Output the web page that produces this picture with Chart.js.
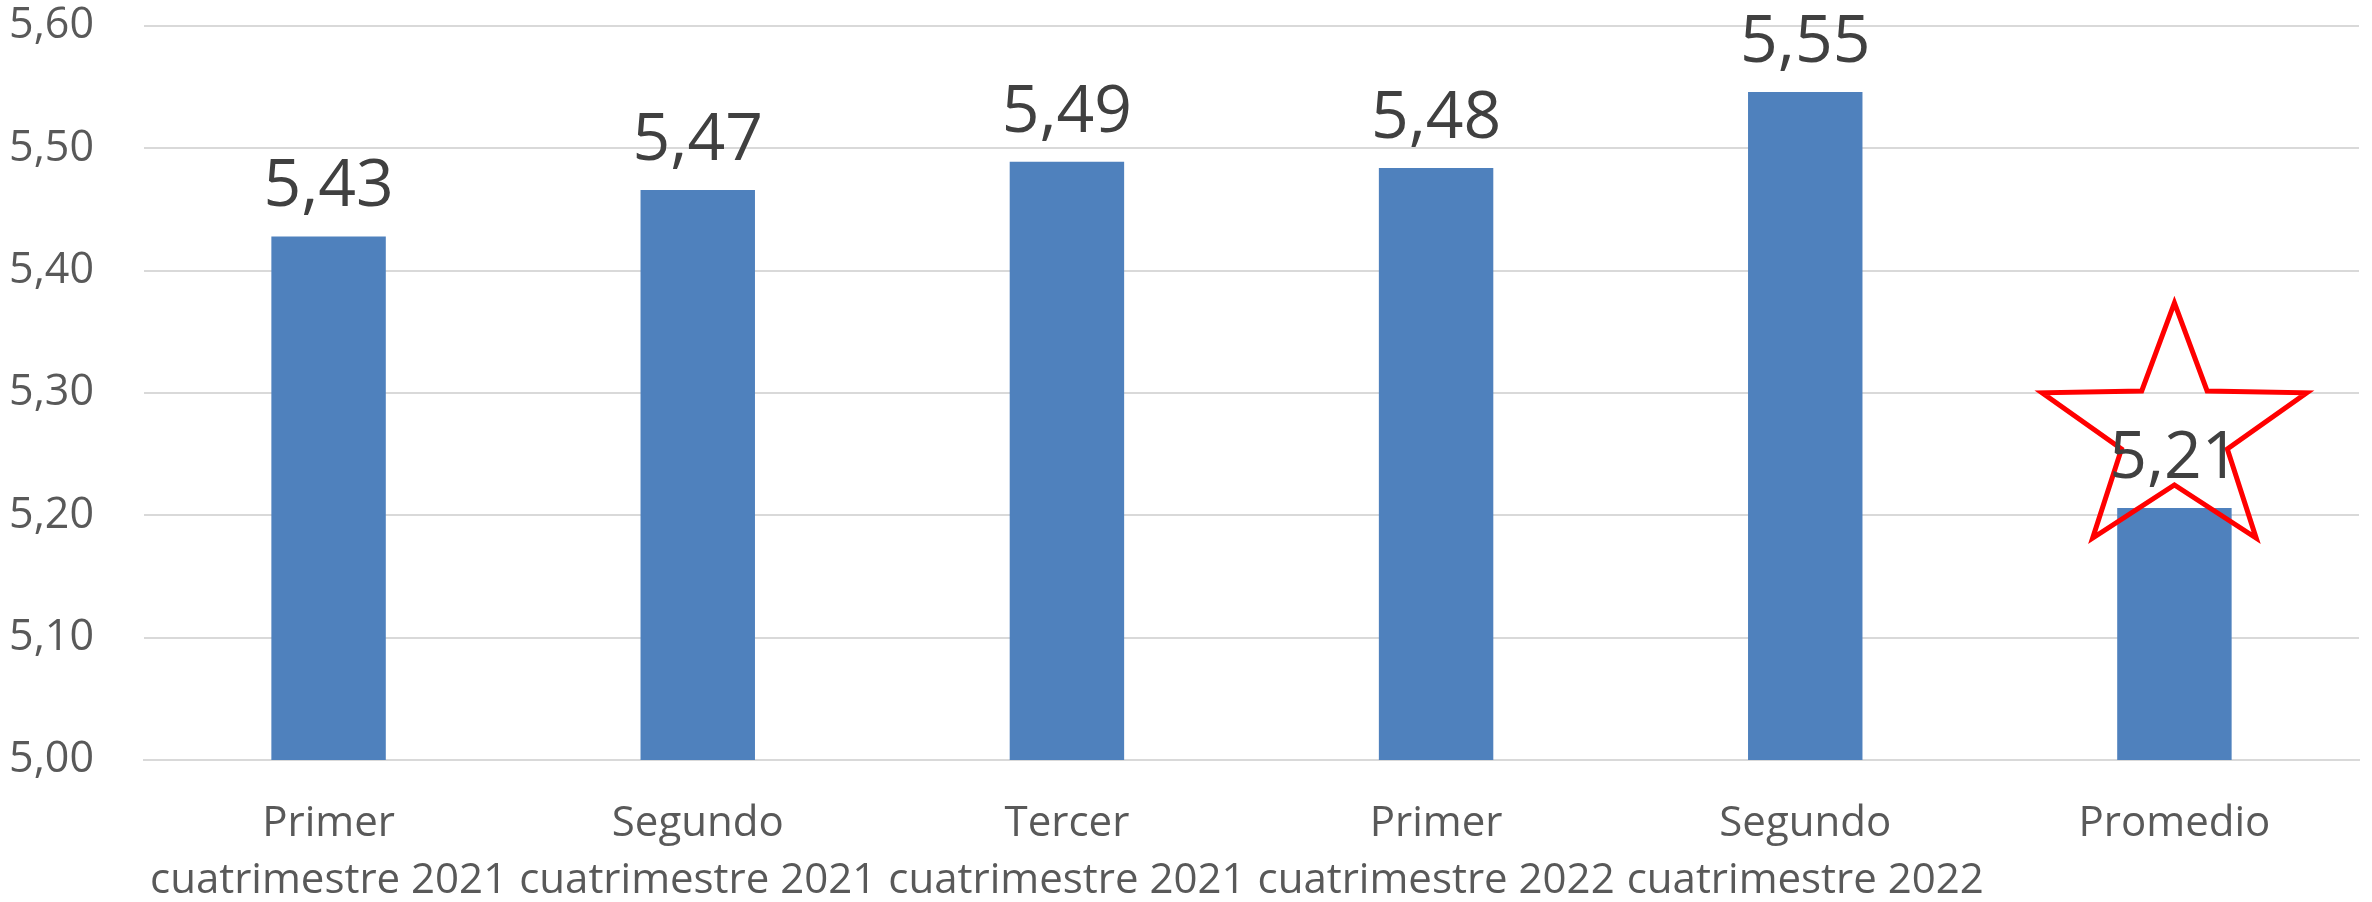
<!DOCTYPE html>
<html>
<head>
<meta charset="utf-8">
<script src="https://cdn.jsdelivr.net/npm/chart.js@4/dist/chart.umd.min.js"></script>
<style>
  html, body { margin: 0; padding: 0; background: #fff; }
  #wrap { width: 2372px; height: 902px; position: relative; }
</style>
</head>
<body>
<div id="wrap"><canvas id="chart"></canvas></div>
<script>
const categories = [
  ['Primer', 'cuatrimestre 2021'],
  ['Segundo', 'cuatrimestre 2021'],
  ['Tercer', 'cuatrimestre 2021'],
  ['Primer', 'cuatrimestre 2022'],
  ['Segundo', 'cuatrimestre 2022'],
  'Promedio'
];
const values = [5.428, 5.466, 5.489, 5.484, 5.546, 5.206];
const yTicks = [5.0, 5.1, 5.2, 5.3, 5.4, 5.5, 5.6];
const highlightIndex = 5; // star drawn around the average bar

const FONT = '"Open Sans", "Noto Sans", sans-serif';
const fmt = v => v.toFixed(2).replace('.', ',');

// value labels above each bar
const BarLabels = {
  id: 'barLabels',
  afterDatasetsDraw(chart) {
    const { ctx } = chart;
    const meta = chart.getDatasetMeta(0);
    ctx.save();
    ctx.font = `66px ${FONT}`;
    ctx.fillStyle = '#404040';
    ctx.textAlign = 'center';
    ctx.textBaseline = 'alphabetic';
    meta.data.forEach((bar, i) => {
      ctx.fillText(fmt(values[i]), bar.x, bar.y - 30);
    });
    ctx.restore();
  }
};

// red outlined 5-point star around the highlighted bar's label
const StarMark = {
  id: 'starMark',
  afterDatasetsDraw(chart) {
    const bar = chart.getDatasetMeta(0).data[highlightIndex];
    if (!bar) return;
    const { ctx } = chart;
    const cx = bar.x, cy = bar.y - 75;
    const R = 130, r = 52, sx = 1.07;
    ctx.save();
    ctx.beginPath();
    for (let k = 0; k < 10; k++) {
      const rad = k % 2 === 0 ? R : r;
      const a = -Math.PI / 2 + k * Math.PI / 5;
      const px = cx + Math.cos(a) * rad * sx, py = cy + Math.sin(a) * rad;
      if (k === 0) ctx.moveTo(px, py); else ctx.lineTo(px, py);
    }
    ctx.closePath();
    ctx.lineWidth = 5;
    ctx.strokeStyle = '#ff0000';
    ctx.lineJoin = 'miter';
    ctx.stroke();
    ctx.restore();
  }
};

new Chart(document.getElementById('chart'), {
  type: 'bar',
  data: {
    labels: categories,
    datasets: [{
      data: values,
      backgroundColor: '#4f81bd',
      borderWidth: 0,
      categoryPercentage: 1,
      barPercentage: 0.31
    }]
  },
  options: {
    responsive: true,
    maintainAspectRatio: false,
    animation: false,
    devicePixelRatio: 1,
    layout: { padding: { top: 26, right: 13, left: 0, bottom: 0 } },
    plugins: { legend: { display: false }, tooltip: { enabled: false } },
    scales: {
      x: {
        grid: { display: false, drawTicks: false },
        border: { display: true, color: '#d9d9d9', width: 2 },
        ticks: {
          color: '#595959', font: { family: FONT, size: 42, lineHeight: 1.35 }, padding: 36,
          maxRotation: 0, minRotation: 0, autoSkip: false
        },
        afterFit: s => { s.height = 142; s.paddingLeft = 0; s.paddingRight = 0; }
      },
      y: {
        min: yTicks[0], max: yTicks[yTicks.length - 1],
        afterBuildTicks: s => { s.ticks = yTicks.map(v => ({ value: v })); },
        grid: { color: '#d9d9d9', lineWidth: 2, drawTicks: false },
        border: { display: false },
        ticks: {
          color: '#595959', font: { family: FONT, size: 43 }, padding: 50,
          callback: v => fmt(v)
        },
        afterFit: s => { s.width = 144; s.paddingTop = 0; s.paddingBottom = 0; }
      }
    }
  },
  plugins: [StarMark, BarLabels]
});
</script>
</body>
</html>
